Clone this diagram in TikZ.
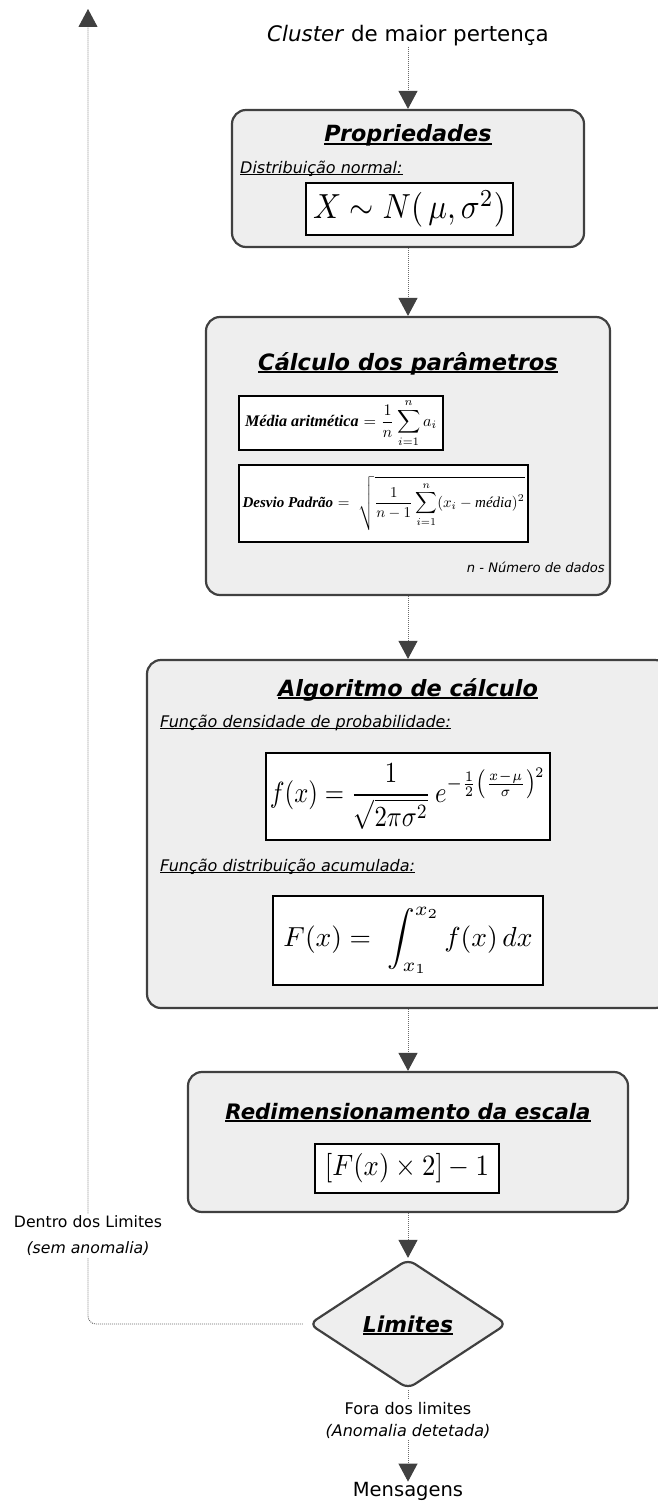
\documentclass[tikz,border=0pt]{standalone}
\usepackage{amsmath}
\usepackage{graphicx}
\usepackage{fontspec}
\setmainfont{DejaVu Sans}
\newfontfamily\tms{Liberation Serif}
\usetikzlibrary{arrows.meta,shapes.geometric}
\definecolor{bord}{HTML}{404040}
\definecolor{boxfill}{HTML}{EEEEEE}
\definecolor{dotline}{HTML}{6A6A6A}
\newcommand{\myul}[1]{\setbox0=\hbox{#1}\rlap{\rule[-0.14em]{\wd0}{0.075em}}\box0}
\tikzset{
  bigbox/.style={draw=bord, line width=2.2pt, rounded corners=14pt, fill=boxfill, inner sep=0pt},
  fbox/.style={draw=black, line width=1.6pt, fill=white, inner sep=0pt},
  ttl/.style={font=\fontsize{22.3}{26}\selectfont\bfseries\itshape, inner sep=0pt, anchor=base},
  sub/.style={font=\fontsize{16}{19}\selectfont\itshape, inner sep=0pt, anchor=base west},
  lbl/.style={inner sep=0pt, anchor=base},
  conn/.style={draw=dotline, line width=0.9pt, dash pattern=on 1pt off 1pt,
    -{Triangle[length=18pt,width=19pt,color=bord,fill=bord]}},
  clab/.style={fill=white, inner sep=2pt, align=center}
}
\begin{document}
\begin{tikzpicture}[x=1pt,y=-1pt]
\useasboundingbox (0,0) rectangle (658,1501);
\clip (0,0) rectangle (658,1501);

% top text
\node[lbl, font=\fontsize{21.4}{25}\selectfont] (cl) at (408,42) {\textit{Cluster} de maior pertença};

% box 1
\node[bigbox, minimum width=352pt, minimum height=137pt] (b1) at (408,178.5) {};
\node[ttl] (t1) at (408,142) {\myul{Propriedades}};
\node[sub] (s1) at (240,173) {\myul{Distribuição normal:}};
\node[fbox, minimum width=207pt, minimum height=52pt] (f1) at (409.5,209)
  {\scalebox{1}[1.12]{\resizebox{193pt}{!}{$X \sim N(\,\mu,\sigma^{2})$}}};

% box 2
\node[bigbox, minimum width=404pt, minimum height=278pt] (b2) at (408,456) {};
\node[ttl, font=\fontsize{22.5}{26}\selectfont\bfseries\itshape] (t2) at (408,370) {\myul{Cálculo dos parâmetros}};
\node[fbox, minimum width=204pt, minimum height=54pt] (f2) at (341,423)
  {\resizebox{192pt}{!}{{\tms\bfseries\itshape Média aritmética} $=\dfrac{1}{n}\displaystyle\sum_{i=1}^{n} a_i$}};
\node[fbox, minimum width=289pt, minimum height=77pt] (f3) at (383.5,503.5)
  {\resizebox{282pt}{!}{{\tms\bfseries\itshape Desvio Padrão} $=\ \sqrt{\dfrac{1}{n-1}\displaystyle\sum_{i=1}^{n}(x_i-\text{\tms\itshape média})^{2}}$}};
\node[lbl, anchor=base east, font=\fontsize{13.1}{16}\selectfont\itshape] (nd) at (605,572) {n - Número de dados};

% box 3
\node[bigbox, minimum width=522pt, minimum height=348pt] (b3) at (408,834) {};
\node[ttl, font=\fontsize{22.4}{26}\selectfont\bfseries\itshape] (t3) at (408,696) {\myul{Algoritmo de cálculo}};
\node[sub] (s3a) at (160,727) {\myul{Função densidade de probabilidade:}};
\node[fbox, minimum width=284pt, minimum height=87pt] (f4) at (408,796.5)
  {\scalebox{1}[1.18]{\resizebox{276pt}{!}{$f(x)=\dfrac{1}{\sqrt{2\pi\sigma^{2}}}\,e^{-\frac{1}{2}\left(\frac{x-\mu}{\sigma}\right)^{2}}$}}};
\node[sub] (s3b) at (160,871) {\myul{Função distribuição acumulada:}};
\node[fbox, minimum width=270pt, minimum height=89pt] (f5) at (408,940.5)
  {\resizebox{249pt}{!}{$F(x)=\ \displaystyle\int_{x_1}^{x_2} f(x)\,dx$}};

% box 4
\node[bigbox, minimum width=440pt, minimum height=140pt] (b4) at (408,1142) {};
\node[ttl, font=\fontsize{21.3}{25}\selectfont\bfseries\itshape] (t4) at (408,1119) {\myul{Redimensionamento da escala}};
\node[fbox, minimum width=184pt, minimum height=49pt] (f6) at (407,1168.5)
  {\scalebox{1}[1.1]{\resizebox{164pt}{!}{$[F(x)\times 2]-1$}}};

% decision
\node[diamond, draw=bord, line width=2.2pt, fill=boxfill, rounded corners=8pt,
  minimum width=198pt, minimum height=130pt, inner sep=0pt] (lim) at (408,1324) {};
\node[ttl, font=\fontsize{21.9}{26}\selectfont\bfseries\itshape] (tl) at (408,1332) {\myul{Limites}};

% end text
\node[lbl, font=\fontsize{19.5}{23}\selectfont] (msg) at (408,1496) {Mensagens};

% connectors
\coordinate (topend) at (88,9);
\draw[conn] (cl.south) -- (b1.north);
\draw[conn] (b1.south) -- (b2.north);
\draw[conn] (b2.south) -- (b3.north);
\draw[conn] (b3.south) -- (b4.north);
\draw[conn] (b4.south) -- (lim.north);
\draw[conn] (lim.south) -- (msg.north);
\draw[conn, rounded corners=8pt, shorten <=5pt] (lim.west) -| (topend);

% connector labels
\node[clab, font=\fontsize{15.7}{26}\selectfont] (dl) at (88,1236) {Dentro dos Limites\\\textit{(sem anomalia)}};
\node[clab, font=\fontsize{16}{22}\selectfont] (fo) at (408,1420) {Fora dos limites\\\textit{(Anomalia detetada)}};
\end{tikzpicture}
\end{document}
